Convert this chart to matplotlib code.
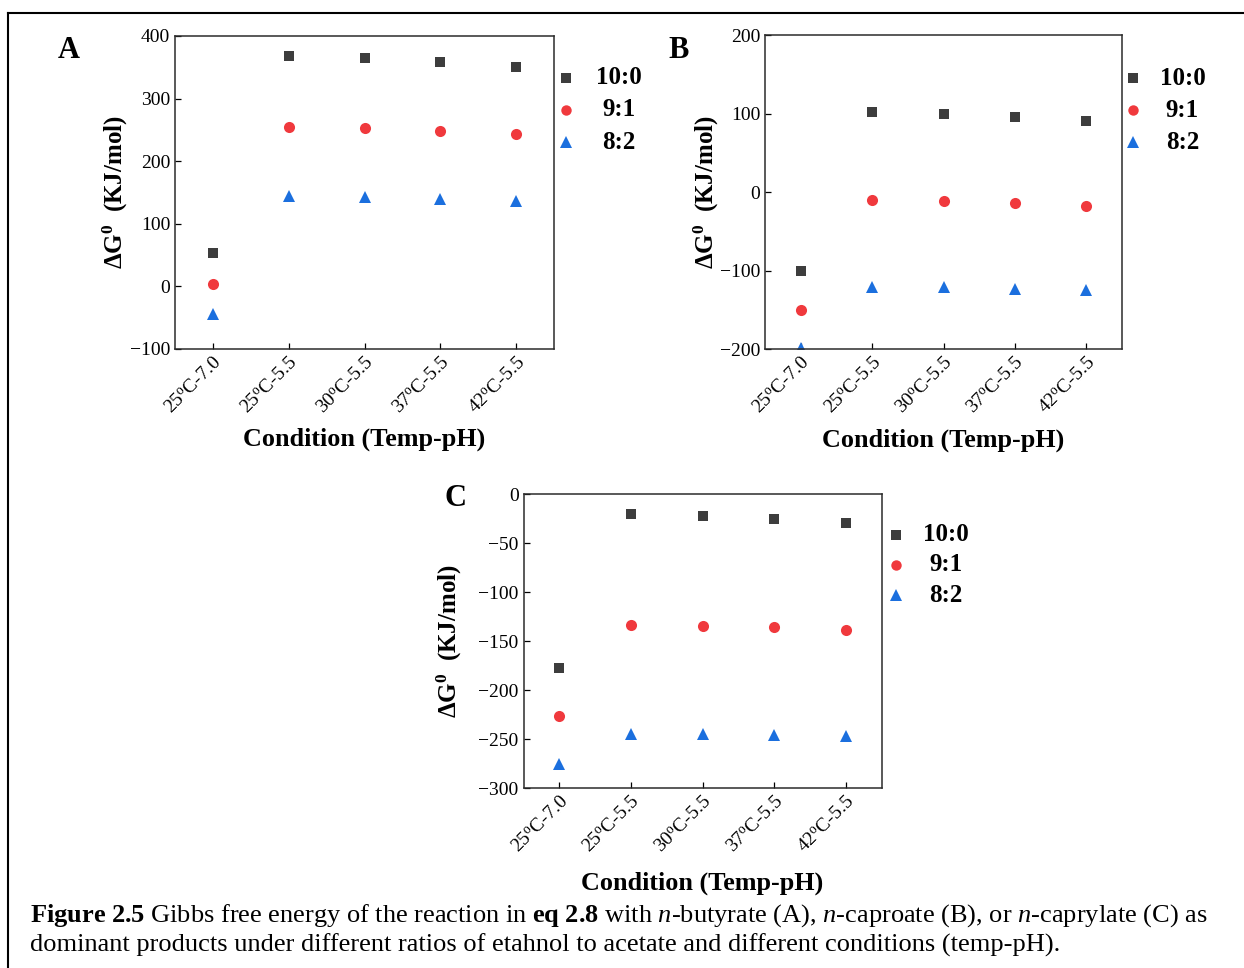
import matplotlib
matplotlib.use("Agg")
import matplotlib.pyplot as plt
from matplotlib.lines import Line2D

plt.rcParams['font.family'] = ['Liberation Serif', 'DejaVu Serif']
plt.rcParams['mathtext.fontset'] = 'custom'
plt.rcParams['mathtext.rm'] = 'Liberation Serif'
plt.rcParams['mathtext.it'] = 'Liberation Serif:italic'
plt.rcParams['mathtext.bf'] = 'Liberation Serif:bold'

# conditions (temperature - pH)
conditions = ["25$^{\\rm o}$C-7.0", "25$^{\\rm o}$C-5.5", "30$^{\\rm o}$C-5.5",
              "37$^{\\rm o}$C-5.5", "42$^{\\rm o}$C-5.5"]
ratios = ["10:0", "9:1", "8:2"]

# Gibbs free energy (kJ/mol), n-butyrate
dg_butyrate_10_0 = [53, 368, 365, 359, 351]
dg_butyrate_9_1 = [4, 255, 253, 248, 243]
dg_butyrate_8_2 = [-44, 145, 143, 140, 136]

# n-caproate
dg_caproate_10_0 = [-100, 102, 100, 96, 91]
dg_caproate_9_1 = [-150, -10, -11, -14, -17]
dg_caproate_8_2 = [-199, -121, -121, -123, -124]

# n-caprylate
dg_caprylate_10_0 = [-177, -20, -22, -25, -30]
dg_caprylate_9_1 = [-226, -133, -134, -136, -139]
dg_caprylate_8_2 = [-275, -245, -245, -246, -247]

yticks_a = [-100, 0, 100, 200, 300, 400]
yticks_b = [-200, -100, 0, 100, 200]
yticks_c = [-300, -250, -200, -150, -100, -50, 0]

markers = ['s', 'o', '^']
colors = ['#3d3d3d', '#f0393d', '#1b6fde']
msizes = [7.5, 8, 8.5]

fig = plt.figure(figsize=(12.44, 9.68), dpi=100)

panels = [
    # rect, data, yticks, ylabel x, xlabel y, legend x (marker, text), legend rows
    ([0.1407, 0.6395, 0.3047, 0.3234],
     [dg_butyrate_10_0, dg_butyrate_9_1, dg_butyrate_8_2], yticks_a,
     -0.156, -0.29, (1.032, 1.172), [0.866, 0.764, 0.661]),
    ([0.6150, 0.6392, 0.2870, 0.3244],
     [dg_caproate_10_0, dg_caproate_9_1, dg_caproate_8_2], yticks_b,
     -0.165, -0.29, (1.031, 1.169), [0.863, 0.761, 0.659]),
    ([0.4209, 0.1856, 0.2878, 0.3040],
     [dg_caprylate_10_0, dg_caprylate_9_1, dg_caprylate_8_2], yticks_c,
     -0.206, -0.323, (1.040, 1.180), [0.861, 0.759, 0.656]),
]

x = list(range(len(conditions)))
for rect, series, yt, ylx, xly, legx, legy in panels:
    ax = fig.add_axes(rect)
    for s, m, c, ms in zip(series, markers, colors, msizes):
        ax.plot(x, s, linestyle='none', marker=m, color=c, markersize=ms,
                markeredgewidth=0)
    ax.set_xlim(-0.5, 4.5)
    ax.set_ylim(yt[0], yt[-1])
    ax.set_yticks(yt)
    ax.set_xticks(x)
    ax.set_xticklabels(conditions, rotation=45, ha='right', va='top',
                       rotation_mode='anchor')
    ax.tick_params(direction='in', length=4, width=0.9, labelsize=14,
                   top=False, right=False)
    for sp in ax.spines.values():
        sp.set_linewidth(1.1)
        sp.set_color('#2b2b2b')
    ax.set_ylabel("ΔG$^{\\mathbf{0}}$  (KJ/mol)", fontsize=18, fontweight='bold')
    ax.yaxis.label.set_va('center')
    ax.yaxis.set_label_coords(ylx, 0.5)
    ax.set_xlabel("Condition (Temp-pH)", fontsize=18.8, fontweight='bold')
    ax.xaxis.label.set_va('center')
    ax.xaxis.set_label_coords(0.5, xly)
    # legend keys beside the axes
    for lab, m, c, ms, ly in zip(ratios, markers, colors, msizes, legy):
        ax.add_artist(Line2D([legx[0]], [ly], transform=ax.transAxes,
                             linestyle='none', marker=m, color=c,
                             markersize=ms - 0.5, markeredgewidth=0,
                             clip_on=False))
        ax.text(legx[1], ly, lab, transform=ax.transAxes, ha='center',
                va='center', fontsize=18, fontweight='bold')

fig.text(69 / 1244, 1 - 50 / 968, "A", ha='center', va='center',
         fontsize=22, fontweight='bold')
fig.text(679 / 1244, 1 - 51 / 968, "B", ha='center', va='center',
         fontsize=22, fontweight='bold')
fig.text(455 / 1244, 1 - 499 / 968, "C", ha='center', va='center',
         fontsize=22, fontweight='bold')

# frame around figure and caption
fig.add_artist(Line2D([8 / 1244, 1.0], [1 - 12.5 / 968, 1 - 12.5 / 968],
                      transform=fig.transFigure, color='black', lw=1.5))
fig.add_artist(Line2D([8 / 1244, 8 / 1244], [1 - 12.5 / 968, 0.0],
                      transform=fig.transFigure, color='black', lw=1.5))

cap1 = ("$\\mathbf{Figure\\ 2.5}$ Gibbs free energy of the reaction in "
        "$\\mathbf{eq\\ 2.8}$ with $\\mathit{n}$-butyrate (A), "
        "$\\mathit{n}$-caproate (B), or $\\mathit{n}$-caprylate (C) as")
cap2 = ("dominant products under different ratios of etahnol to acetate "
        "and different conditions (temp-pH).")
fig.text(30 / 1244, 1 - 916 / 968, cap1, ha='left', va='center', fontsize=19)
fig.text(30 / 1244, 1 - 945 / 968, cap2, ha='left', va='center', fontsize=19)

fig.savefig("out.png", dpi=100)
